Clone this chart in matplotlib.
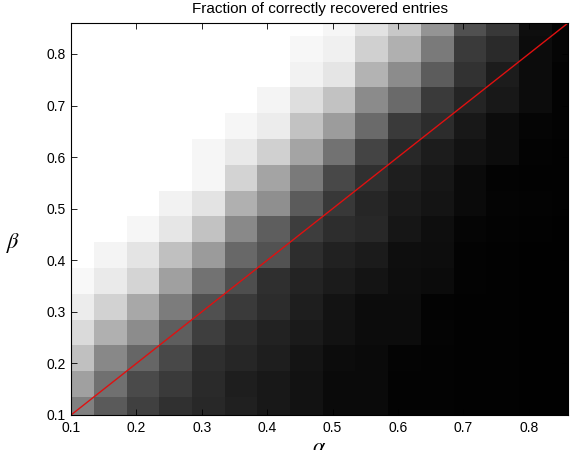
import numpy as np
import matplotlib
matplotlib.use("Agg")
import matplotlib.pyplot as plt


# ---------------------------------------
# GRID (cell centres) + GRAY LEVELS
# ---------------------------------------
alpha = [0.11, 0.16, 0.21, 0.26, 0.31, 0.36, 0.41, 0.46,
         0.51, 0.56, 0.61, 0.66, 0.71, 0.76, 0.81, 0.86]
beta = [0.11, 0.16, 0.21, 0.26, 0.31, 0.36, 0.41, 0.46,
        0.51, 0.56, 0.61, 0.66, 0.71, 0.76, 0.81, 0.86]

# rows = beta (bottom -> top), cols = alpha (left -> right), 0..255 gray
b011 = [128, 90, 64, 48, 40, 32, 24, 18, 10, 10, 3, 3, 2, 2, 1, 1]
b016 = [160, 112, 74, 58, 42, 30, 24, 18, 10, 10, 3, 3, 2, 2, 1, 1]
b021 = [192, 136, 102, 72, 46, 38, 30, 20, 12, 10, 4, 3, 2, 2, 1, 1]
b026 = [218, 176, 140, 94, 62, 44, 34, 26, 18, 12, 12, 4, 2, 2, 1, 1]
b031 = [236, 210, 168, 124, 80, 58, 44, 30, 19, 12, 12, 3, 2, 2, 1, 1]
b036 = [248, 234, 212, 160, 114, 78, 47, 35, 27, 20, 13, 11, 3, 2, 1, 1]
b041 = [255, 244, 228, 192, 155, 104, 82, 45, 33, 27, 14, 13, 3, 2, 1, 1]
b046 = [255, 255, 246, 230, 194, 137, 94, 61, 45, 40, 22, 14, 5, 3, 2, 1]
b051 = [255, 255, 255, 242, 227, 176, 143, 91, 56, 38, 26, 20, 10, 4, 3, 2]
b056 = [255, 255, 255, 255, 246, 211, 164, 122, 72, 48, 30, 22, 10, 3, 2, 2]
b061 = [255, 255, 255, 255, 246, 233, 208, 164, 114, 68, 40, 28, 18, 12, 3, 2]
b066 = [255, 255, 255, 255, 255, 246, 236, 194, 156, 106, 58, 44, 24, 12, 5, 3]
b071 = [255, 255, 255, 255, 255, 255, 244, 222, 194, 139, 106, 58, 36, 24, 12, 3]
b076 = [255, 255, 255, 255, 255, 255, 255, 242, 229, 179, 140, 92, 50, 28, 12, 3]
b081 = [255, 255, 255, 255, 255, 255, 255, 247, 240, 208, 176, 122, 58, 42, 12, 5]
b086 = [255, 255, 255, 255, 255, 255, 255, 254, 246, 226, 200, 148, 80, 56, 14, 5]

frac = np.array([b011, b016, b021, b026, b031, b036, b041, b046,
                 b051, b056, b061, b066, b071, b076, b081, b086]) / 255.0

ticks = [0.1, 0.2, 0.3, 0.4, 0.5, 0.6, 0.7, 0.8]
lims = [0.1, 0.86]


# ---------------------------------------
# PLOT
# ---------------------------------------
plt.rcParams["font.family"] = ["Liberation Sans", "DejaVu Sans"]
plt.rcParams["mathtext.fontset"] = "stix"

fig = plt.figure(figsize=(5.7, 4.5), dpi=100)
ax = fig.add_axes([71 / 570, 35 / 450, 497 / 570, 392 / 450])

ax.pcolormesh(alpha, beta, frac, shading="nearest", cmap="gray",
              vmin=0, vmax=1)
ax.plot(lims, lims, color="#e01010", lw=1.0)

ax.set_xlim(lims)
ax.set_ylim(lims)
ax.set_xticks(ticks)
ax.set_yticks(ticks)
ax.set_xticklabels([f"{t:.1f}" for t in ticks])
ax.set_yticklabels([f"{t:.1f}" for t in ticks])
ax.tick_params(direction="in", length=4, width=0.6, labelsize=10,
               top=True, right=True, pad=4)
for s in ax.spines.values():
    s.set_linewidth(0.8)

ax.set_title("Fraction of correctly recovered entries", fontsize=11, pad=7.5)
ax.set_xlabel(r"$\alpha$", fontsize=16, labelpad=2, va="top")
fig.text(13 / 570, 1 - 243 / 450, r"$\beta$", fontsize=16,
         ha="center", va="center")

fig.savefig("out.png", dpi=100)
